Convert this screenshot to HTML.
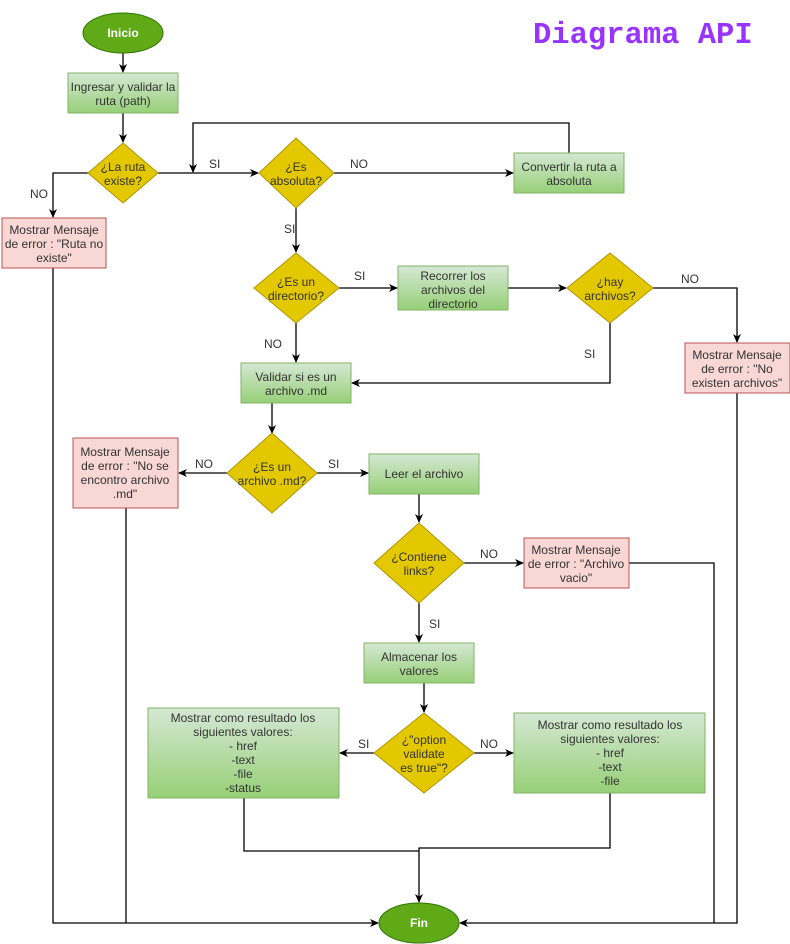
<!DOCTYPE html>
<html><head><meta charset="utf-8"><style>
html,body{margin:0;padding:0;background:#fff;}
svg{display:block;}
text{font-family:"Liberation Sans",sans-serif;font-size:12px;fill:#333;}
</style></head><body>
<svg width="790" height="944" viewBox="0 0 790 944" xmlns="http://www.w3.org/2000/svg">
<defs>
<linearGradient id="g" x1="0" y1="0" x2="0" y2="1"><stop offset="0" stop-color="#d5e8d4"/><stop offset="1" stop-color="#97d077"/></linearGradient>
<marker id="a" markerWidth="10" markerHeight="10" refX="8" refY="5" orient="auto" markerUnits="userSpaceOnUse"><path d="M0,1 L9,5 L0,9 L2.5,5 Z" fill="#000"/></marker>
</defs>
<text x="533" y="43" style="font-family:'Liberation Mono',monospace;font-size:30.5px;font-weight:bold;fill:#9933ff;">Diagrama API</text>

<g fill="none" stroke="#000" stroke-width="1.3">
<line x1="123" y1="53" x2="123" y2="72" marker-end="url(#a)"/>
<line x1="123" y1="113" x2="123" y2="142" marker-end="url(#a)"/>
<polyline points="88,173 53,173 53,217" marker-end="url(#a)"/>
<line x1="158" y1="173" x2="258" y2="173" marker-end="url(#a)"/>
<polyline points="569,153 569,123 193,123 193,172" marker-end="url(#a)"/>
<line x1="334" y1="173" x2="513" y2="173" marker-end="url(#a)"/>
<line x1="296" y1="208" x2="296" y2="252" marker-end="url(#a)"/>
<line x1="339" y1="288" x2="397" y2="288" marker-end="url(#a)"/>
<line x1="508" y1="288" x2="566" y2="288" marker-end="url(#a)"/>
<polyline points="653,288 737,288 737,342" marker-end="url(#a)"/>
<polyline points="610,323 610,383 352,383" marker-end="url(#a)"/>
<line x1="296" y1="323" x2="296" y2="362" marker-end="url(#a)"/>
<line x1="272" y1="403" x2="272" y2="433" marker-end="url(#a)"/>
<line x1="227" y1="473" x2="179" y2="473" marker-end="url(#a)"/>
<line x1="317" y1="473" x2="368" y2="473" marker-end="url(#a)"/>
<line x1="419" y1="494" x2="419" y2="522" marker-end="url(#a)"/>
<line x1="464" y1="563" x2="523" y2="563" marker-end="url(#a)"/>
<line x1="419" y1="603" x2="419" y2="642" marker-end="url(#a)"/>
<line x1="424" y1="683" x2="424" y2="712" marker-end="url(#a)"/>
<line x1="374" y1="753" x2="340" y2="753" marker-end="url(#a)"/>
<line x1="474" y1="753" x2="513" y2="753" marker-end="url(#a)"/>
<polyline points="244,798 244,851 419,851"/>
<polyline points="610,793 610,848 419,848 419,902" marker-end="url(#a)"/>
<polyline points="53,268 53,923 378,923" marker-end="url(#a)"/>
<line x1="126" y1="508" x2="126" y2="923"/>
<polyline points="629,563 714,563 714,923"/>
<polyline points="737,393 737,923 460,923" marker-end="url(#a)"/>
</g>

<ellipse cx="123" cy="33" rx="40" ry="20" fill="#60a917" stroke="#2d7600"/>
<text x="123" y="37" text-anchor="middle" style="fill:#fff;font-weight:bold;">Inicio</text>
<ellipse cx="419" cy="923" rx="40" ry="20" fill="#60a917" stroke="#2d7600"/>
<text x="419" y="927" text-anchor="middle" style="fill:#fff;font-weight:bold;">Fin</text>

<g stroke="#82b366" fill="url(#g)">
<rect x="68" y="73" width="110" height="40"/>
<rect x="514" y="153" width="110" height="40"/>
<rect x="398" y="266" width="110" height="44"/>
<rect x="241" y="363" width="110" height="40"/>
<rect x="369" y="454" width="110" height="40"/>
<rect x="364" y="643" width="110" height="40"/>
<rect x="148" y="708" width="191" height="90"/>
<rect x="514" y="713" width="191" height="80"/>
</g>
<g stroke="#b85450" fill="#f8d7d5">
<rect x="2" y="218" width="104" height="50"/>
<rect x="685" y="343" width="105" height="50"/>
<rect x="73" y="438" width="105" height="70"/>
<rect x="524" y="538" width="105" height="50"/>
</g>
<g stroke="#b09500" fill="#e3c800">
<polygon points="123,143 158,173 123,203 88,173"/>
<polygon points="296,138 334,173 296,208 259,173"/>
<polygon points="296,253 339,288 296,323 254,288"/>
<polygon points="610,253 653,288 610,323 567,288"/>
<polygon points="272,433 317,473 272,513 227,473"/>
<polygon points="419,523 464,563 419,603 374,563"/>
<polygon points="424,713 474,753 424,793 374,753"/>
</g>

<g text-anchor="middle">
<text x="123" y="91">Ingresar y validar la</text><text x="123" y="105">ruta (path)</text>
<text x="569" y="171">Convertir la ruta a</text><text x="569" y="185">absoluta</text>
<text x="453" y="280">Recorrer los</text><text x="453" y="294">archivos del</text><text x="453" y="308">directorio</text>
<text x="296" y="381">Validar si es un</text><text x="296" y="395">archivo .md</text>
<text x="424" y="478">Leer el archivo</text>
<text x="419" y="661">Almacenar los</text><text x="419" y="675">valores</text>
<text x="243" y="722">Mostrar como resultado los</text><text x="243" y="736">siguientes valores:</text><text x="243" y="750">- href</text><text x="243" y="764">-text</text><text x="243" y="778">-file</text><text x="243" y="792">-status</text>
<text x="610" y="729">Mostrar como resultado los</text><text x="610" y="743">siguientes valores:</text><text x="610" y="757">- href</text><text x="610" y="771">-text</text><text x="610" y="785">-file</text>
<text x="54" y="234">Mostrar Mensaje</text><text x="54" y="248">de error : "Ruta no</text><text x="54" y="262">existe"</text>
<text x="737" y="359">Mostrar Mensaje</text><text x="737" y="373">de error : "No</text><text x="737" y="387">existen archivos"</text>
<text x="125" y="456">Mostrar Mensaje</text><text x="125" y="470">de error : "No se</text><text x="125" y="484">encontro archivo</text><text x="125" y="498">.md"</text>
<text x="576" y="554">Mostrar Mensaje</text><text x="576" y="568">de error : "Archivo</text><text x="576" y="582">vacio"</text>
<text x="123" y="171">¿La ruta</text><text x="123" y="185">existe?</text>
<text x="296" y="171">¿Es</text><text x="296" y="185">absoluta?</text>
<text x="296" y="286">¿Es un</text><text x="296" y="300">directorio?</text>
<text x="610" y="286">¿hay</text><text x="610" y="300">archivos?</text>
<text x="272" y="471">¿Es un</text><text x="272" y="485">archivo .md?</text>
<text x="419" y="561">¿Contiene</text><text x="419" y="575">links?</text>
<text x="424" y="744">¿"option</text><text x="424" y="758">validate</text><text x="424" y="772">es true"?</text>
</g>
<g>
<text x="30" y="198">NO</text>
<text x="209" y="168">SI</text>
<text x="350" y="168">NO</text>
<text x="284" y="233">SI</text>
<text x="354" y="280">SI</text>
<text x="681" y="283">NO</text>
<text x="584" y="358">SI</text>
<text x="264" y="348">NO</text>
<text x="195" y="468">NO</text>
<text x="328" y="468">SI</text>
<text x="480" y="558">NO</text>
<text x="429" y="628">SI</text>
<text x="358" y="748">SI</text>
<text x="480" y="748">NO</text>
</g>
</svg>
</body></html>
